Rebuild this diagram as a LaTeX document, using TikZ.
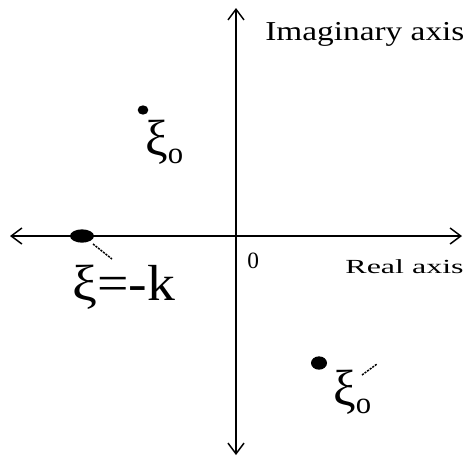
\documentclass[tikz,border=0pt]{standalone}
\usepackage{fontspec}
\setmainfont{Liberation Serif}
\usetikzlibrary{arrows.meta,shapes.geometric}
\begin{document}
\begin{tikzpicture}[x=0.75pt,y=-0.75pt,
  axis/.style={line width=1.1pt,{Straight Barb[length=8pt,width=12pt]}-{Straight Barb[length=8pt,width=12pt]}},
  blob/.style={ellipse,fill=black,inner sep=0pt},
  lbl/.style={anchor=base west,inner sep=0pt},
  tick/.style={dashed,dash pattern=on 1.6pt off 0.8pt,line width=1.1pt}]
\useasboundingbox (0,0) rectangle (472,461);

% axes
\coordinate (w) at (10,236);
\coordinate (e) at (462,236);
\coordinate (n) at (236,8);
\coordinate (s) at (236,455);
\draw[axis] (w) -- (e);
\draw[axis] (n) -- (s);

\node[lbl,font=\fontsize{20.5}{22}\selectfont,xscale=1.22] (im) at (265,40) {Imaginary axis};
\node[lbl,font=\fontsize{15}{16}\selectfont,xscale=1.6] (re) at (345,273) {Real axis};
\node[lbl,font=\fontsize{17.5}{19}\selectfont] (o) at (247,268) {0};

% points
\node[blob,minimum width=8pt,minimum height=7pt] (p1) at (143,110) {};
\node[blob,minimum width=18pt,minimum height=10pt] (pk) at (82,236) {};
\node[blob,minimum width=12pt,minimum height=10pt] (p2) at (319,363) {};

\node[lbl,font=\fontsize{38}{40}\selectfont] (x1) at (145,155)
  {ξ\raisebox{-6pt}{\fontsize{23}{24}\selectfont o}};
\node[lbl,font=\fontsize{38}{40}\selectfont,xscale=1.1] (xk) at (72,300) {ξ=-k};
\node[lbl,font=\fontsize{38}{40}\selectfont] (x2) at (333,405)
  {ξ\raisebox{-6pt}{\fontsize{23}{24}\selectfont o}};

\draw[tick] (93,244) -- (112,259);
\draw[tick] (362,375) -- (377,364);
\end{tikzpicture}
\end{document}
